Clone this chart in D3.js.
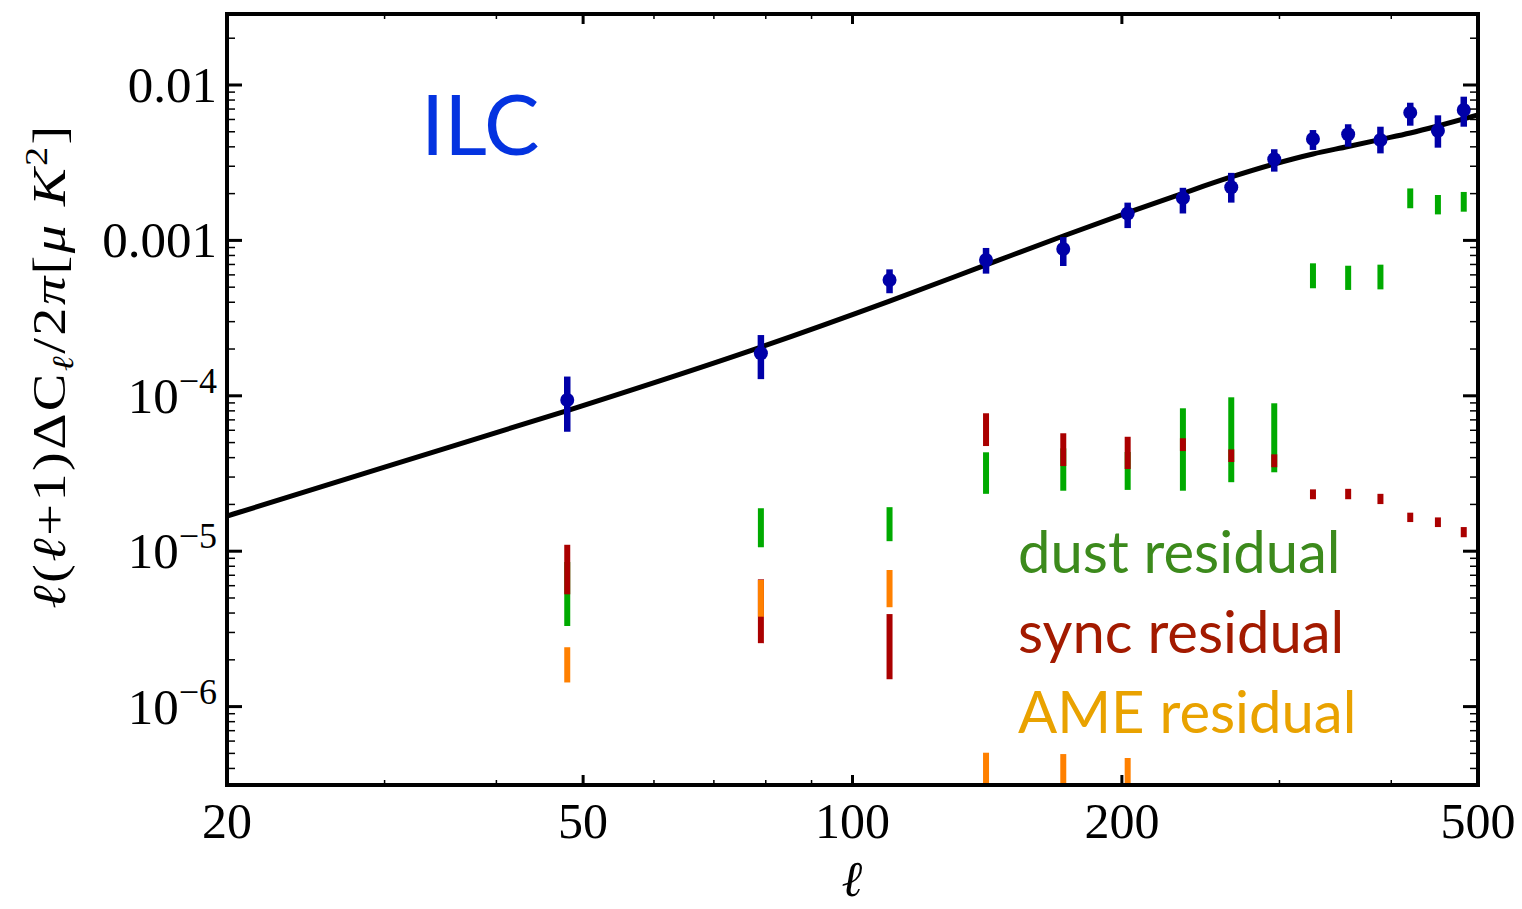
<!DOCTYPE html>
<html><head><meta charset="utf-8">
<script src="https://cdn.jsdelivr.net/npm/d3@7"></script>
<style>body{margin:0;background:#fff}</style>
</head><body><svg id="c" width="1522" height="909"></svg>
<script>
// ---- data ----
const ell      = [48, 79, 110, 141, 172, 203, 234, 265, 296, 327, 358, 389, 420, 451, 482];
const ilcVal   = [9.4e-5, 1.88e-4, 5.56e-4, 7.48e-4, 8.81e-4, 1.49e-3, 1.87e-3, 2.20e-3, 3.33e-3, 4.49e-3, 4.82e-3, 4.43e-3, 6.64e-3, 5.08e-3, 6.90e-3];
const ilcHi    = [1.33e-4, 2.46e-4, 6.51e-4, 8.94e-4, 1.05e-3, 1.75e-3, 2.18e-3, 2.72e-3, 3.86e-3, 5.13e-3, 5.59e-3, 5.39e-3, 7.69e-3, 6.38e-3, 8.41e-3];
const ilcLo    = [5.87e-5, 1.28e-4, 4.57e-4, 6.11e-4, 6.84e-4, 1.20e-3, 1.49e-3, 1.75e-3, 2.77e-3, 3.82e-3, 4.01e-3, 3.63e-3, 5.47e-3, 3.95e-3, 5.39e-3];

const theoryEll = [20, 30, 48, 79, 110, 141, 172, 203, 234, 265, 296, 327, 358, 389, 420, 451, 500];
const theoryVal = [1.684e-5, 3.48e-5, 8.04e-5, 2.06e-4, 4.07e-4, 6.95e-4, 1.067e-3, 1.508e-3, 2.009e-3, 2.559e-3, 3.101e-3, 3.597e-3, 4.02e-3, 4.46e-3, 4.911e-3, 5.447e-3, 6.412e-3];

const dustHi = [8.52e-6, 1.89e-5, 1.92e-5, 4.33e-5, 4.59e-5, 4.35e-5, 8.31e-5, 9.78e-5, 8.95e-5, 7.12e-4, 6.87e-4, 6.98e-4, 2.16e-3, 1.96e-3, 2.05e-3];
const dustLo = [3.30e-6, 1.06e-5, 1.16e-5, 2.34e-5, 2.45e-5, 2.48e-5, 2.45e-5, 2.78e-5, 3.22e-5, 4.92e-4, 4.80e-4, 4.84e-4, 1.61e-3, 1.47e-3, 1.53e-3];
const syncHi = [1.10e-5, 6.59e-6, 3.94e-6, 7.72e-5, 5.74e-5, 5.45e-5, 5.33e-5, 4.52e-5, 4.20e-5, 2.50e-5, 2.52e-5, 2.34e-5, 1.77e-5, 1.65e-5, 1.43e-5];
const syncLo = [5.28e-6, 2.56e-6, 1.50e-6, 4.75e-5, 3.53e-5, 3.38e-5, 4.41e-5, 3.75e-5, 3.47e-5, 2.16e-5, 2.16e-5, 2.01e-5, 1.54e-5, 1.43e-5, 1.23e-5];
const ameHi  = [2.41e-6, 6.53e-6, 7.57e-6, 5.05e-7, 4.95e-7, 4.67e-7, null, null, null, null, null, null, null, null, null];
const ameLo  = [1.43e-6, 3.79e-6, 4.36e-6, 2.0e-7, 2.0e-7, 2.0e-7, null, null, null, null, null, null, null, null, null];

const xTicks = [20, 50, 100, 200, 500];
const xMinor = [30, 40, 60, 70, 80, 90, 300, 400];
const yTicks = [0.01, 0.001, 1e-4, 1e-5, 1e-6];
const yTickBase = ["0.01", "0.001", "10", "10", "10"];
const yTickExp  = ["", "", "\u22124", "\u22125", "\u22126"];
const legendLabels = ["dust residual", "sync residual", "AME residual"];
const legendColors = ["#3c8a1c", "#a31a00", "#e9a200"];
const titleText = "ILC";

// ---- layout ----
const L = 227, R = 1478, T = 14, B = 785;
const svg = d3.select("#c");
const x = d3.scaleLog().domain([20, 500]).range([L, R]);
const y = d3.scaleLog().domain([0.02863, 3.13e-7]).range([T, B]);

svg.append("defs").append("clipPath").attr("id", "clip")
  .append("rect").attr("x", L).attr("y", T).attr("width", R - L).attr("height", B - T);

const plot = svg.append("g").attr("clip-path", "url(#clip)");

// residual bars: dust, sync, AME (in that order)
function bars(lo, hi, color) {
  const d = ell.map((e, i) => ({e, lo: lo[i], hi: hi[i]})).filter(v => v.lo != null);
  plot.append("g").selectAll("line").data(d).join("line")
    .attr("x1", v => x(v.e)).attr("x2", v => x(v.e))
    .attr("y1", v => y(v.hi)).attr("y2", v => y(v.lo))
    .attr("stroke", color).attr("stroke-width", 6);
}
bars(dustLo, dustHi, "#00aa00");
bars(syncLo, syncHi, "#aa0000");
bars(ameLo, ameHi, "#ff8000");

// theory curve
const tdata = theoryEll.map((e, i) => [e, theoryVal[i]]);
plot.append("path").datum(tdata)
  .attr("d", d3.line().x(d => x(d[0])).y(d => y(d[1])).curve(d3.curveMonotoneX))
  .attr("fill", "none").attr("stroke", "#000").attr("stroke-width", 5);

// ILC points with error bars
const pts = ell.map((e, i) => ({e, v: ilcVal[i], lo: ilcLo[i], hi: ilcHi[i]}));
plot.append("g").selectAll("line").data(pts).join("line")
  .attr("x1", d => x(d.e)).attr("x2", d => x(d.e))
  .attr("y1", d => y(d.hi)).attr("y2", d => y(d.lo))
  .attr("stroke", "#0000a8").attr("stroke-width", 6.5);
plot.append("g").selectAll("circle").data(pts).join("circle")
  .attr("cx", d => x(d.e)).attr("cy", d => y(d.v)).attr("r", 7)
  .attr("fill", "#0000a8");

// ticks
const tk = svg.append("g").attr("stroke", "#000");
yTicks.forEach(t => {
  [[L, 1], [R, -1]].forEach(([x0, s]) => {
    tk.append("line").attr("x1", x0).attr("x2", x0 + s * 15).attr("y1", y(t)).attr("y2", y(t)).attr("stroke-width", 3);
  });
});
const yMinorVals = [];
for (let p = -7; p <= -2; p++) for (let m = 2; m <= 9; m++) {
  const v = m * Math.pow(10, p);
  if (v < 0.02863 && v > 3.13e-7) yMinorVals.push(v);
}
yMinorVals.forEach(t => {
  [[L, 1], [R, -1]].forEach(([x0, s]) => {
    tk.append("line").attr("x1", x0).attr("x2", x0 + s * 8).attr("y1", y(t)).attr("y2", y(t)).attr("stroke-width", 1.5);
  });
});
xTicks.forEach(t => {
  [[B, -1], [T, 1]].forEach(([y0, s]) => {
    tk.append("line").attr("x1", x(t)).attr("x2", x(t)).attr("y1", y0).attr("y2", y0 + s * 10).attr("stroke-width", 3);
  });
});
xMinor.forEach(t => {
  [[B, -1], [T, 1]].forEach(([y0, s]) => {
    tk.append("line").attr("x1", x(t)).attr("x2", x(t)).attr("y1", y0).attr("y2", y0 + s * 5).attr("stroke-width", 1.5);
  });
});

// frame
svg.append("rect").attr("x", L).attr("y", T).attr("width", R - L).attr("height", B - T)
  .attr("fill", "none").attr("stroke", "#000").attr("stroke-width", 4);

// tick labels
const serif = "'Liberation Serif','Times New Roman',serif";
svg.append("g").selectAll("text").data(xTicks).join("text")
  .attr("x", d => x(d)).attr("y", 838).attr("text-anchor", "middle")
  .attr("font-family", serif).attr("font-size", 50).text(d => d);

yTicks.forEach((t, i) => {
  const tx = svg.append("text").attr("x", 217).attr("y", y(t) + 17).attr("text-anchor", "end")
    .attr("font-family", serif).attr("font-size", 51);
  tx.append("tspan").text(yTickBase[i]);
  if (yTickExp[i]) tx.append("tspan").attr("dy", -20).attr("font-size", 36).text(yTickExp[i]);
});

// axis titles
svg.append("text").attr("x", 852).attr("y", 896).attr("text-anchor", "middle")
  .attr("font-family", "'DejaVu Serif',serif").attr("font-style", "italic").attr("font-size", 50).text("\u2113");

const yl = svg.append("text").attr("transform", "translate(65,366) rotate(-90) scale(1.2,1)")
  .attr("text-anchor", "middle").attr("font-family", serif).attr("font-size", 47)
  .attr("letter-spacing", 2);
yl.append("tspan").attr("font-style", "italic").text("\u2113");
yl.append("tspan").text("(");
yl.append("tspan").attr("font-style", "italic").text("\u2113");
yl.append("tspan").text("+1)\u0394C");
yl.append("tspan").attr("font-style", "italic").attr("font-size", 30).attr("dy", 8).text("\u2113");
yl.append("tspan").attr("dy", -8).text("/2");
yl.append("tspan").attr("font-style", "italic").text("\u03c0");
yl.append("tspan").text("[");
yl.append("tspan").attr("font-style", "italic").text("\u03bc K");
yl.append("tspan").attr("font-size", 32).attr("dy", -18).text("2");
yl.append("tspan").attr("dy", 18).text("]");

// title and legend
const sans = "Lato,'Open Sans',sans-serif";
svg.append("text").attr("x", 421).attr("y", 155).attr("font-family", sans).attr("font-size", 83)
  .attr("fill", "#0433e0").text(titleText);
const legY = [573, 653, 733];
legendLabels.forEach((s, i) => {
  svg.append("text").attr("x", 1018).attr("y", legY[i]).attr("font-family", sans).attr("font-size", 58)
    .attr("fill", legendColors[i]).text(s);
});
</script></body></html>
